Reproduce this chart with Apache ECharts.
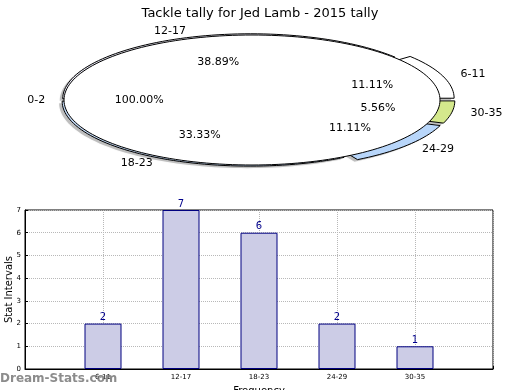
<!DOCTYPE html>
<html><head><meta charset="utf-8">
<script src="https://cdn.jsdelivr.net/npm/echarts@6/dist/echarts.min.js"></script>
<style>html,body{margin:0;padding:0;background:#fff}#c{width:520px;height:390px}</style>
</head><body><div id="c"></div>
<script>
// ---- data ----
const titleText = 'Tackle tally for Jed Lamb - 2015 tally';
const yAxisTitle = 'Stat Intervals';
const xAxisTitle = 'Frequency';
const pieLabels = ['6-11', '12-17', '0-2', '18-23', '24-29', '30-35'];
const pieValues = [2, 7, 0, 6, 2, 1];
const piePctText = ['11.11%', '38.89%', '100.00%', '33.33%', '11.11%', '5.56%'];
const pieExplode = [0.08, 0.02, 0, 0.02, 0.08, 0.08];
const pieColors = ['#ffffff', '#ececf8', '#ffffff', '#c4daf6', '#b8d6fa', '#d4e88c'];

const barCategories = ['6-11', '12-17', '18-23', '24-29', '30-35'];
const barValues = [2, 7, 6, 2, 1];

// ---- pie geometry (layout) ----
const PC = {cx: 252, cy: 100, rx: 188, ry: 65};
const LEFT_LABEL_NUDGE = 6; // layout nudge for labels on the left half
const FONT = 'DejaVu Sans';

const total = pieValues.reduce((a, b) => a + b, 0);
let cum = 0;
const pieData = pieValues.map((v, i) => {
  const start = cum / total * 360;
  cum += v;
  const end = cum / total * 360;
  return {name: pieLabels[i], value: [v, start, end, pieExplode[i]]};
});

function slicePts(a0, a1, e, dx, dy) {
  const r0 = a0 * Math.PI / 180, r1 = a1 * Math.PI / 180;
  const mid = (r0 + r1) / 2;
  const ox = PC.cx + e * PC.rx * Math.cos(mid) + dx;
  const oy = PC.cy - e * PC.ry * Math.sin(mid) + dy;
  const pts = [[ox, oy]];
  const n = Math.max(2, Math.ceil((a1 - a0) / 2));
  for (let k = 0; k <= n; k++) {
    const t = r0 + (r1 - r0) * k / n;
    pts.push([ox + PC.rx * Math.cos(t), oy - PC.ry * Math.sin(t)]);
  }
  return pts;
}

function shadowItem(params, api) {
  const v = api.value(0);
  if (!v) return null;
  return {type: 'polygon', shape: {points: slicePts(api.value(1), api.value(2), api.value(3), -3, 2)},
    style: {fill: 'rgba(0,0,0,0.22)', shadowBlur: 2, shadowColor: 'rgba(0,0,0,0.25)'}, silent: true};
}
function sliceItem(params, api) {
  const v = api.value(0);
  if (!v) return null;
  return {type: 'polygon', shape: {points: slicePts(api.value(1), api.value(2), api.value(3), 0, 0)},
    style: {fill: pieColors[params.dataIndex], stroke: '#000', lineWidth: 1}};
}
function topItem(params, api) {
  if (params.dataIndex !== 0) return null;
  return {type: 'polygon', shape: {points: slicePts(0, 360, 0, 0, 0).slice(1)},
    style: {fill: '#ffffff', stroke: '#000', lineWidth: 1}};
}
function labelItem(params, api) {
  const a0 = api.value(1), a1 = api.value(2), e = api.value(3);
  const mid = (a0 + a1) / 2 * Math.PI / 180;
  const c = Math.cos(mid), s = Math.sin(mid);
  const nudge = (c < -1e-9 && Math.abs(s) > 1e-6) ? LEFT_LABEL_NUDGE : 0;
  const lx = PC.cx + (1.1 + e) * PC.rx * c + nudge, ly = PC.cy - (1.1 + e) * PC.ry * s;
  const px = PC.cx + (0.6 + e) * PC.rx * c + nudge, py = PC.cy - (0.6 + e) * PC.ry * s;
  return {type: 'group', children: [
    {type: 'text', x: lx, y: ly, style: {text: pieLabels[params.dataIndex], fill: '#000', font: '11px "' + FONT + '"',
      align: c >= -1e-9 ? 'left' : 'right', verticalAlign: 'middle'}},
    {type: 'text', x: px, y: py, style: {text: piePctText[params.dataIndex], fill: '#000', font: '11px "' + FONT + '"',
      align: 'center', verticalAlign: 'middle'}}
  ]};
}

const chart = echarts.init(document.getElementById('c'), null, {renderer: 'canvas'});
const axisCats = [''].concat(barCategories, ['']);
const barSeriesData = ['-'].concat(barValues, ['-']);

chart.setOption({
  animation: false,
  textStyle: {fontFamily: FONT},
  title: {text: titleText, left: 'center', top: 2,
    textStyle: {fontFamily: FONT, fontSize: 13, fontWeight: 'normal', color: '#000'}},
  graphic: [
    {type: 'text', x: 9, y: 289.5, rotation: Math.PI / 2, z: 50,
      style: {text: yAxisTitle, font: '10px "' + FONT + '"', fill: '#000', align: 'center', verticalAlign: 'middle'}},
    {type: 'text', left: 0, top: 373, z: 100,
      style: {text: 'Dream-Stats.com', font: 'bold 12px "' + FONT + '"', fill: 'rgba(120,120,120,0.85)'}}
  ],
  grid: {left: 25, right: 27, top: 210, bottom: 21, show: true, borderColor: '#000', borderWidth: 1,
    containLabel: false, outerBoundsMode: 'none'},
  xAxis: {type: 'category', data: axisCats, boundaryGap: false,
    name: xAxisTitle, nameLocation: 'middle', nameGap: 17,
    nameTextStyle: {fontFamily: FONT, fontSize: 10, color: '#000'},
    axisLine: {lineStyle: {color: '#000'}},
    axisTick: {show: true, inside: true, length: 3, lineStyle: {color: '#000'}},
    axisLabel: {fontFamily: FONT, fontSize: 7, color: '#000', margin: 5, interval: 0},
    splitLine: {show: true, lineStyle: {color: '#b8b8b8', type: 'dotted', width: 1}}},
  yAxis: {type: 'value', min: 0, max: 7, interval: 1,
    axisLine: {show: true, lineStyle: {color: '#000'}},
    axisTick: {show: true, inside: true, length: 3, lineStyle: {color: '#000'}},
    axisLabel: {fontFamily: FONT, fontSize: 7, color: '#000', margin: 4},
    splitLine: {show: true, lineStyle: {color: '#b8b8b8', type: 'dotted', width: 1}}},
  series: [
    {type: 'custom', coordinateSystem: 'none', renderItem: shadowItem, data: pieData, z: 1, silent: true},
    {type: 'custom', coordinateSystem: 'none', renderItem: sliceItem, data: pieData, z: 2, silent: true},
    {type: 'custom', coordinateSystem: 'none', renderItem: topItem, data: pieData, z: 3, silent: true},
    {type: 'custom', coordinateSystem: 'none', renderItem: labelItem, data: pieData, z: 4, silent: true},
    {type: 'bar', data: barSeriesData, barWidth: 37,
      itemStyle: {color: '#ccccE6', borderColor: '#000080', borderWidth: 1},
      label: {show: true, position: 'top', distance: 1, color: '#00008b', fontFamily: FONT, fontSize: 10}}
  ]
});
</script></body></html>
